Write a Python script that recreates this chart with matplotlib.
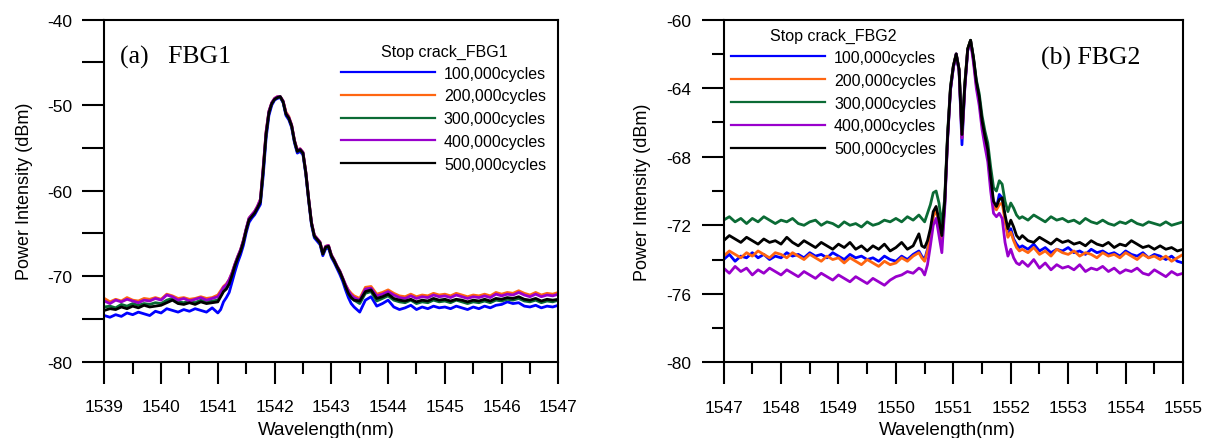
import matplotlib
matplotlib.use("Agg")
import matplotlib.pyplot as plt
import numpy as np
from matplotlib.ticker import MultipleLocator

plt.rcParams["font.family"] = ["Liberation Sans", "DejaVu Sans"]
plt.rcParams["axes.unicode_minus"] = False

# ---- FBG1 (left) ----
# wavelength sampling: coarse on the baseline, finer across the peak
wl_fbg1 = np.round(np.concatenate([np.arange(1539.0, 1541.01, 0.1),
                                   np.arange(1541.05, 1543.41, 0.05),
                                   np.arange(1543.5, 1547.01, 0.1)]), 2)

fbg1_100k = [-74.6, -74.8, -74.5, -74.7, -74.3, -74.5, -74.2, -74.4, -74.6, -74.1,
             -74.3, -73.8, -74.0, -74.2, -73.9, -74.1, -73.8, -74.0, -74.2, -73.7, -74.3,
             -73.9, -73.0, -72.5, -71.9, -70.7, -69.5, -68.4, -67.5, -66.4, -64.9,
             -63.7, -63.2, -62.8, -62.2, -61.6, -58.2, -53.9, -51.2, -50.0, -49.4,
             -49.2, -49.1, -49.7, -51.2, -51.7, -52.6, -54.4, -55.6, -55.4, -55.8,
             -58.1, -61.2, -64.0, -65.5, -65.9, -66.3, -67.6, -66.8, -66.7, -67.8,
             -68.4, -69.1, -69.8, -70.6, -71.6, -72.5, -73.2, -73.6,
             -74.2, -72.8, -72.4, -73.5, -73.2, -72.8, -73.6, -73.9, -73.7, -73.4,
             -73.9, -73.6, -73.8, -73.5, -73.7, -73.6, -73.8, -73.5, -73.7, -73.9,
             -73.6, -73.8, -73.5, -73.7, -73.4, -73.3, -73.0, -73.2, -73.1, -73.5,
             -73.6, -73.4, -73.7, -73.5, -73.6, -73.4]
fbg1_200k = [-72.6, -73.0, -72.7, -72.9, -72.5, -72.8, -72.9, -72.6, -72.7, -72.5,
             -72.7, -72.1, -72.3, -72.6, -72.5, -72.7, -72.6, -72.4, -72.6, -72.5, -72.2,
             -71.7, -71.2, -70.9, -70.4, -69.6, -68.6, -67.7, -66.9, -65.8, -64.5,
             -63.2, -62.8, -62.4, -61.8, -61.0, -57.2, -53.1, -50.7, -49.7, -49.2,
             -49.0, -49.0, -49.5, -50.8, -51.3, -52.3, -54.1, -55.2, -55.1, -55.5,
             -57.8, -60.9, -63.7, -65.2, -65.6, -66.0, -67.3, -66.5, -66.4, -67.5,
             -68.1, -68.8, -69.4, -70.2, -71.0, -71.6, -72.0, -72.3,
             -72.6, -71.3, -71.2, -72.1, -71.9, -71.6, -72.0, -72.3, -72.4, -72.1,
             -72.4, -72.2, -72.3, -72.0, -72.2, -72.1, -72.3, -72.0, -72.2, -72.4,
             -72.2, -72.3, -72.1, -72.3, -71.9, -72.1, -71.9, -72.0, -71.7, -72.0,
             -72.2, -71.9, -72.2, -72.0, -72.1, -71.9]
fbg1_300k = [-73.6, -73.5, -73.7, -73.3, -73.5, -73.2, -73.4, -73.2, -73.3, -73.1,
             -73.2, -72.8, -72.6, -73.0, -73.1, -72.9, -73.1, -72.8, -73.0, -72.9, -72.8,
             -72.3, -71.7, -71.4, -70.8, -69.8, -68.7, -67.8, -67.0, -65.9, -64.5,
             -63.3, -62.9, -62.5, -61.9, -61.2, -57.5, -53.3, -50.8, -49.8, -49.3,
             -49.1, -49.0, -49.6, -51.0, -51.5, -52.4, -54.2, -55.4, -55.2, -55.6,
             -57.9, -61.0, -63.8, -65.3, -65.7, -66.1, -67.4, -66.6, -66.5, -67.6,
             -68.2, -68.9, -69.5, -70.3, -71.2, -72.0, -72.5, -72.8,
             -73.2, -72.0, -71.8, -72.9, -72.6, -72.3, -72.8, -73.0, -73.1, -72.8,
             -73.2, -73.0, -73.1, -72.8, -73.0, -72.9, -73.1, -72.8, -73.0, -73.2,
             -73.0, -73.1, -72.9, -73.1, -72.8, -72.9, -72.7, -72.8, -72.6, -72.9,
             -73.0, -72.8, -73.1, -72.9, -73.0, -72.8]
fbg1_400k = [-72.9, -73.2, -72.8, -73.0, -72.7, -72.9, -73.1, -72.8, -72.9, -72.6,
             -72.8, -72.2, -72.4, -72.8, -72.6, -72.9, -72.7, -72.5, -72.8, -72.6, -72.4,
             -71.9, -71.3, -71.0, -70.4, -69.6, -68.6, -67.7, -66.9, -65.8, -64.4,
             -63.2, -62.8, -62.4, -61.8, -61.0, -57.2, -53.1, -50.7, -49.7, -49.2,
             -49.0, -49.0, -49.5, -50.9, -51.4, -52.3, -54.1, -55.3, -55.1, -55.5,
             -57.8, -60.9, -63.7, -65.2, -65.6, -66.0, -67.3, -66.5, -66.4, -67.5,
             -68.1, -68.8, -69.4, -70.2, -71.0, -71.7, -72.2, -72.5,
             -72.8, -71.5, -71.4, -72.3, -72.1, -71.8, -72.2, -72.5, -72.6, -72.3,
             -72.6, -72.4, -72.5, -72.2, -72.4, -72.3, -72.5, -72.2, -72.4, -72.6,
             -72.4, -72.5, -72.3, -72.5, -72.1, -72.3, -72.1, -72.2, -71.9, -72.2,
             -72.4, -72.1, -72.4, -72.2, -72.3, -72.1]
fbg1_500k = [-74.0, -73.8, -73.9, -73.6, -73.8, -73.5, -73.7, -73.4, -73.6, -73.5,
             -73.4, -73.1, -72.8, -73.2, -73.3, -73.1, -73.3, -73.0, -73.2, -73.1, -73.0,
             -72.4, -71.8, -71.5, -70.9, -69.9, -68.8, -67.9, -67.1, -66.0, -64.6,
             -63.4, -63.0, -62.6, -62.0, -61.3, -57.6, -53.4, -50.9, -49.8, -49.3,
             -49.1, -49.0, -49.6, -51.0, -51.5, -52.4, -54.2, -55.4, -55.2, -55.6,
             -57.9, -61.0, -63.8, -65.3, -65.7, -66.1, -67.4, -66.6, -66.5, -67.6,
             -68.2, -68.9, -69.5, -70.3, -71.2, -72.0, -72.5, -72.8,
             -72.9, -71.8, -71.6, -72.6, -72.4, -72.1, -72.6, -72.8, -72.9, -72.7,
             -73.0, -72.8, -72.9, -72.6, -72.8, -72.7, -72.9, -72.7, -72.8, -73.0,
             -72.8, -72.9, -72.7, -72.9, -72.6, -72.7, -72.5, -72.6, -72.4, -72.7,
             -72.8, -72.6, -72.9, -72.7, -72.8, -72.7]

# ---- FBG2 (right) ----
wl_fbg2 = np.round(np.concatenate([np.arange(1547.0, 1550.41, 0.1),
                                   np.arange(1550.45, 1552.16, 0.05),
                                   np.arange(1552.2, 1555.01, 0.1)]), 2)

fbg2_100k = [-74.0, -73.7, -74.1, -73.8, -73.9, -73.6, -73.9, -73.7, -74.0, -73.8,
             -73.9, -73.6, -73.8, -73.7, -73.9, -73.6, -73.8, -73.7, -73.9, -73.6,
             -73.8, -74.0, -73.7, -73.9, -73.8, -74.0, -73.9, -74.1, -73.8, -74.0,
             -74.1, -73.8, -74.0, -73.7, -73.5,
             -73.8, -74.0, -73.4, -72.5, -71.4, -71.1, -71.9, -72.9, -70.8, -66.9,
             -64.1, -62.8, -62.0, -63.0, -67.3, -63.9, -61.8, -61.2, -62.3, -63.7,
             -64.6, -66.0, -66.9, -67.8, -69.4, -70.8, -71.0, -70.2, -70.4, -71.6,
             -72.6, -72.2, -72.8, -73.1, -73.3,
             -73.2, -73.4, -73.1, -73.5, -73.3, -73.6, -73.4, -73.5, -73.3, -73.6,
             -73.5, -73.7, -73.4, -73.6, -73.5, -73.7, -73.6, -73.8, -73.5, -73.7,
             -73.8, -73.6, -73.9, -73.7, -73.8, -74.0, -73.8, -74.1, -74.2]
fbg2_200k = [-73.8, -73.5, -73.7, -73.9, -73.6, -73.8, -73.5, -73.7, -73.9, -73.6,
             -73.7, -73.9, -73.6, -73.8, -74.0, -73.7, -73.9, -74.1, -73.8, -74.0,
             -73.9, -74.2, -73.9, -74.1, -74.3, -74.0, -74.2, -74.4, -74.1, -74.3,
             -74.2, -73.9, -74.1, -73.8, -73.6,
             -73.9, -74.1, -73.5, -72.6, -71.5, -71.1, -71.9, -72.9, -70.7, -66.8,
             -64.0, -62.7, -62.0, -62.9, -66.9, -63.8, -61.7, -61.2, -62.3, -63.8,
             -64.7, -66.1, -67.0, -67.9, -69.6, -70.9, -71.1, -70.8, -70.7, -71.7,
             -72.7, -72.4, -72.9, -73.3, -73.5,
             -73.4, -73.6, -73.3, -73.7, -73.5, -73.8, -73.4, -73.6, -73.7, -73.5,
             -73.8, -73.6, -73.7, -73.9, -73.6, -73.8, -73.7, -73.9, -73.6, -73.8,
             -74.0, -73.7, -73.9, -73.8, -74.0, -73.8, -74.1, -73.9, -73.7]
fbg2_300k = [-71.7, -71.5, -71.8, -71.6, -71.9, -71.6, -71.8, -71.5, -71.7, -71.9,
             -71.7, -71.8, -71.6, -71.9, -72.0, -71.8, -71.7, -72.0, -71.8, -71.9,
             -72.1, -71.8, -72.0, -71.9, -72.1, -71.8, -72.0, -71.9, -71.7, -71.8,
             -71.6, -71.8, -71.5, -71.7, -71.4,
             -71.6, -71.8, -71.3, -70.8, -70.1, -70.0, -70.7, -72.0, -70.4, -66.6,
             -63.9, -62.7, -62.0, -62.9, -66.5, -63.7, -61.7, -61.2, -62.2, -63.5,
             -64.3, -65.6, -66.5, -67.2, -68.6, -69.8, -70.0, -69.4, -69.6, -70.6,
             -71.2, -70.7, -71.0, -71.4, -71.6,
             -71.5, -71.7, -71.4, -71.6, -71.8, -71.5, -71.7, -71.6, -71.8, -71.7,
             -71.9, -71.6, -71.8, -71.9, -71.7, -71.9, -72.0, -71.8, -71.9, -71.7,
             -71.9, -72.0, -71.8, -71.9, -72.0, -71.8, -72.0, -71.9, -71.8]
fbg2_400k = [-74.5, -74.8, -74.4, -74.7, -74.5, -74.9, -74.6, -74.8, -74.5, -74.7,
             -74.9, -74.6, -74.8, -75.0, -74.7, -74.9, -75.1, -74.8, -75.0, -75.2,
             -74.9, -75.1, -75.3, -75.0, -75.2, -75.4, -75.1, -75.3, -75.5, -75.2,
             -75.0, -74.9, -74.7, -74.8, -74.5,
             -74.6, -74.9, -74.3, -73.2, -72.0, -71.6, -72.6, -73.6, -71.0, -67.0,
             -64.1, -62.8, -62.0, -63.0, -66.9, -64.0, -61.8, -61.3, -62.5, -64.0,
             -65.0, -66.4, -67.4, -68.3, -70.0, -71.3, -71.5, -71.3, -71.6, -73.0,
             -73.8, -73.4, -73.9, -74.2, -74.3,
             -74.1, -74.4, -74.0, -74.5, -74.2, -74.6, -74.3, -74.5, -74.4, -74.6,
             -74.3, -74.7, -74.5, -74.6, -74.4, -74.7, -74.5, -74.8, -74.6, -74.7,
             -74.5, -74.8, -74.9, -74.6, -74.8, -75.0, -74.7, -74.9, -74.8]
fbg2_500k = [-72.9, -72.6, -72.8, -73.0, -72.7, -72.9, -73.1, -72.8, -73.0, -72.9,
             -73.1, -72.7, -73.0, -73.2, -72.9, -73.1, -73.3, -73.0, -73.2, -73.4,
             -73.1, -73.3, -73.0, -73.4, -73.2, -73.5, -73.2, -73.4, -73.1, -73.5,
             -73.3, -73.0, -73.4, -73.2, -72.5,
             -73.2, -73.3, -72.9, -72.2, -71.2, -70.9, -71.7, -72.6, -70.6, -66.8,
             -64.0, -62.7, -62.0, -62.9, -66.7, -63.8, -61.7, -61.2, -62.2, -63.6,
             -64.5, -65.9, -66.8, -67.6, -69.2, -70.6, -70.9, -70.5, -70.4, -71.4,
             -72.2, -71.7, -72.1, -72.6, -72.8,
             -72.6, -72.9, -73.0, -72.7, -72.9, -73.1, -72.8, -73.0, -72.9, -73.1,
             -73.0, -73.2, -72.9, -73.1, -73.2, -73.0, -73.3, -73.1, -73.2, -72.9,
             -73.1, -73.3, -73.2, -73.4, -73.2, -73.4, -73.3, -73.5, -73.4]

labels = ["100,000cycles", "200,000cycles", "300,000cycles", "400,000cycles", "500,000cycles"]
colors = ["#0000ff", "#ff6611", "#0b6b35", "#9900cc", "#000000"]

fbg1_series = [fbg1_100k, fbg1_200k, fbg1_300k, fbg1_400k, fbg1_500k]
fbg2_series = [fbg2_100k, fbg2_200k, fbg2_300k, fbg2_400k, fbg2_500k]
for s in fbg1_series:
    assert len(s) == len(wl_fbg1), (len(s), len(wl_fbg1))
for s in fbg2_series:
    assert len(s) == len(wl_fbg2), (len(s), len(wl_fbg2))


def style_axes(ax, ymin, ymax, ymajor, yminor, long_yminor):
    ax.set_ylim(ymin, ymax)
    ax.xaxis.set_major_locator(MultipleLocator(1))
    ax.xaxis.set_minor_locator(MultipleLocator(0.5))
    ax.yaxis.set_major_locator(MultipleLocator(ymajor))
    ax.yaxis.set_minor_locator(MultipleLocator(yminor))
    for sp in ax.spines.values():
        sp.set_linewidth(1.5)
    ax.tick_params(axis="x", which="major", direction="out", length=16, width=1.5,
                   labelsize=12.5, pad=11)
    ax.tick_params(axis="x", which="minor", direction="out", length=8.5, width=1.5)
    ax.tick_params(axis="y", which="major", direction="out", length=16, width=1.5,
                   labelsize=12.5, pad=7)
    ax.tick_params(axis="y", which="minor", direction="out",
                   length=16 if long_yminor else 8.5, width=1.5)
    ax.set_xlabel("Wavelength(nm)", fontsize=13.5, va="top")
    ax.set_ylabel("Power Intensity (dBm)", fontsize=13)


def add_legend(ax, title, title_xy, anchor):
    ax.text(title_xy[0], title_xy[1], title, transform=ax.transAxes,
            fontsize=11.5, ha="center", va="center")
    leg = ax.legend(loc="upper left", bbox_to_anchor=anchor, frameon=False,
                    fontsize=11.5, handlelength=5.9, handletextpad=0.55,
                    labelspacing=0.49, borderpad=0, borderaxespad=0)
    for h in leg.get_lines():
        h.set_linewidth(1.6)
    return leg


fig = plt.figure(figsize=(12.06, 4.39), dpi=100)

ax1 = fig.add_axes([0.0865, 0.1738, 0.3765, 0.779])
for vals, lab, c in zip(fbg1_series, labels, colors):
    ax1.plot(wl_fbg1, vals, color=c, lw=2.0, label=lab)
ax1.set_xlim(1539, 1547)
style_axes(ax1, -80, -40, 10, 5, True)
ax1.xaxis.set_label_coords(0.488, -0.172)
ax1.yaxis.set_label_coords(-0.158, 0.5)
ax1.text(0.0335, 0.876, "(a)   FBG1", transform=ax1.transAxes, fontsize=18.5,
         family="Liberation Serif", va="baseline", ha="left")
add_legend(ax1, "Stop crack_FBG1", (0.748, 0.906), (0.521, 0.866))

ax2 = fig.add_axes([0.600, 0.1724, 0.381, 0.7804])
for vals, lab, c in zip(fbg2_series, labels, colors):
    ax2.plot(wl_fbg2, vals, color=c, lw=2.0, label=lab)
ax2.set_xlim(1547, 1555)
style_axes(ax2, -80, -60, 4, 2, False)
ax2.xaxis.set_label_coords(0.486, -0.172)
ax2.yaxis.set_label_coords(-0.157, 0.5)
ax2.text(0.6915, 0.871, "(b) FBG2", transform=ax2.transAxes, fontsize=18.5,
         family="Liberation Serif", va="baseline", ha="left")
add_legend(ax2, "Stop crack_FBG2", (0.238, 0.953), (0.016, 0.912))

fig.savefig("out.png", dpi=100)
